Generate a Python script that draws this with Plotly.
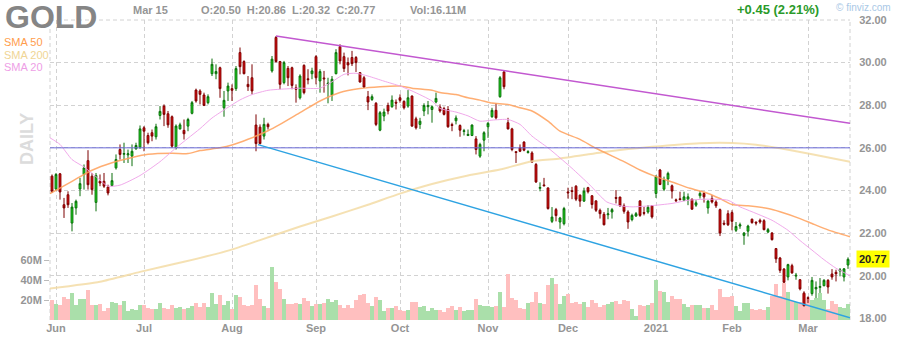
import plotly.graph_objects as go

# ---------------- data ----------------
opens = [
    24.67, 24.07, 24.78, 23.33, 23.80, 22.47, 23.18, 24.07, 24.75, 25.40,
    24.67, 23.44, 24.43, 24.43, 24.16, 24.23, 25.06, 25.92, 25.70, 25.67,
    25.61, 25.95, 26.03, 26.94, 26.58, 26.71, 26.52, 27.52, 27.96, 27.60,
    27.46, 26.00, 26.89, 26.82, 27.02, 27.62, 28.71, 28.67, 28.48, 28.12,
    29.48, 29.48, 29.76, 27.88, 28.67, 28.78, 28.78, 30.47, 30.05, 28.98,
    29.29, 27.07, 26.97, 26.55, 27.10, 29.61, 31.18, 30.05, 29.06, 29.73,
    29.76, 28.82, 28.35, 29.87, 29.24, 29.48, 30.28, 29.14, 29.28, 28.99,
    28.48, 29.48, 30.75, 30.28, 30.00, 30.24, 30.24, 29.53, 29.29, 28.40,
    28.27, 28.09, 26.83, 27.49, 27.99, 27.93, 28.14, 28.35, 28.18, 27.96,
    28.43, 27.36, 27.10, 27.73, 27.93, 27.80, 28.15, 27.91, 27.84, 27.80,
    27.09, 27.27, 27.05, 26.77, 26.58, 26.58, 26.42, 25.61, 26.36, 26.99,
    27.46, 27.76, 28.40, 29.56, 27.18, 26.89, 25.82, 26.00, 26.27, 25.78,
    25.76, 25.22, 24.10, 24.26, 24.12, 22.55, 23.10, 22.52, 22.44, 23.93,
    23.99, 24.20, 23.78, 23.50, 24.13, 23.75, 23.51, 23.07, 22.88, 22.86,
    22.99, 23.67, 23.69, 23.28, 22.99, 22.63, 22.80, 23.51, 22.96, 22.99,
    23.28, 23.86, 24.96, 24.06, 24.54, 24.22, 23.56, 23.61, 23.54, 23.59,
    23.59, 23.31, 23.75, 23.86, 23.18, 23.62, 23.46, 23.10, 22.46, 22.91,
    22.96, 22.13, 22.33, 21.89, 22.09, 22.65, 22.51, 22.60, 22.58, 22.05,
    22.00, 21.27, 20.83, 20.31, 19.94, 20.47, 19.98, 19.81, 19.19, 18.97,
    19.16, 19.38, 19.45, 19.53, 19.78, 20.08, 20.16, 20.22, 19.94, 20.50,
]
highs = [
    24.75, 24.82, 24.82, 23.65, 23.96, 23.41, 23.57, 24.59, 25.22, 25.89,
    24.82, 24.82, 24.75, 24.82, 24.27, 24.82, 25.69, 26.16, 26.24, 25.92,
    26.16, 26.24, 27.05, 27.02, 26.71, 26.86, 27.13, 27.96, 28.04, 27.73,
    27.52, 27.10, 27.18, 27.33, 27.41, 28.20, 28.78, 28.75, 28.59, 28.51,
    30.19, 29.92, 29.81, 28.67, 29.06, 28.98, 29.84, 30.71, 30.11, 29.37,
    29.92, 27.57, 27.10, 27.41, 27.18, 30.31, 31.25, 30.08, 30.08, 29.84,
    29.81, 28.98, 29.45, 29.92, 29.69, 29.76, 30.35, 29.69, 29.61, 29.29,
    29.37, 30.63, 30.86, 30.47, 30.24, 30.55, 30.31, 29.56, 29.37, 28.67,
    28.51, 28.15, 27.73, 27.84, 28.12, 28.46, 28.27, 28.51, 28.23, 28.71,
    28.46, 27.46, 27.41, 28.09, 28.20, 27.99, 28.59, 28.04, 27.93, 27.96,
    27.18, 27.52, 27.10, 26.89, 26.86, 27.10, 26.55, 26.24, 26.78, 27.21,
    27.88, 28.09, 29.37, 29.61, 27.41, 26.94, 25.84, 26.16, 26.31, 25.89,
    25.84, 25.29, 24.38, 24.59, 24.14, 23.22, 23.18, 22.76, 23.23, 24.13,
    24.17, 24.25, 23.81, 24.13, 24.17, 23.78, 23.54, 23.15, 22.99, 23.18,
    23.18, 24.02, 23.70, 23.39, 23.07, 22.91, 22.99, 23.54, 23.23, 23.31,
    23.31, 24.72, 25.01, 24.65, 24.88, 24.28, 23.62, 23.94, 23.94, 23.86,
    23.62, 23.54, 23.98, 23.94, 23.54, 23.78, 23.54, 23.15, 22.60, 23.07,
    23.07, 22.52, 22.49, 22.05, 22.39, 22.68, 22.55, 22.68, 22.65, 22.24,
    22.05, 21.30, 20.88, 20.36, 20.56, 20.56, 20.13, 19.84, 19.27, 19.03,
    19.94, 19.73, 19.89, 19.84, 19.84, 20.31, 20.28, 20.36, 20.36, 20.86,
]
lows = [
    23.88, 24.00, 23.57, 22.71, 23.18, 22.08, 22.86, 23.73, 24.04, 24.04,
    23.80, 23.02, 24.20, 24.12, 23.77, 24.20, 24.98, 25.45, 25.29, 25.29,
    25.14, 25.92, 25.95, 25.84, 26.16, 26.31, 26.39, 27.33, 27.02, 26.94,
    26.00, 25.92, 26.86, 26.39, 26.78, 27.57, 28.12, 28.04, 27.96, 28.04,
    29.37, 29.22, 28.35, 27.46, 28.20, 28.20, 28.67, 29.45, 29.45, 28.67,
    28.51, 25.84, 26.16, 26.39, 26.86, 29.53, 30.00, 28.75, 28.98, 28.90,
    28.75, 28.12, 28.27, 28.51, 28.98, 29.22, 28.98, 28.59, 28.59, 28.09,
    28.20, 29.45, 29.92, 29.56, 29.40, 29.84, 29.56, 29.06, 28.82, 27.77,
    28.20, 27.02, 26.78, 27.25, 27.57, 27.88, 27.80, 28.12, 27.80, 27.88,
    26.99, 26.86, 26.89, 27.49, 27.57, 27.18, 28.09, 27.65, 27.52, 26.94,
    26.78, 27.10, 26.52, 26.58, 26.55, 26.55, 25.69, 25.53, 25.84, 26.47,
    27.41, 27.33, 28.35, 28.75, 26.86, 25.84, 25.29, 25.80, 25.84, 25.73,
    25.29, 24.35, 23.96, 24.20, 23.10, 22.47, 22.55, 22.20, 22.36, 23.62,
    23.59, 23.50, 23.23, 23.46, 23.86, 23.15, 22.99, 22.68, 22.36, 22.65,
    22.68, 23.39, 23.23, 22.91, 22.20, 22.55, 22.76, 22.76, 22.83, 22.91,
    22.68, 23.65, 24.25, 23.97, 24.25, 23.62, 23.46, 23.54, 23.50, 23.31,
    23.10, 23.23, 23.62, 23.43, 22.91, 23.39, 23.18, 21.86, 22.36, 22.33,
    22.13, 22.05, 22.20, 21.45, 21.84, 22.44, 22.36, 22.44, 22.13, 22.00,
    21.65, 20.60, 20.13, 19.66, 19.78, 20.09, 19.81, 19.31, 18.56, 18.72,
    19.06, 18.95, 19.19, 19.50, 19.16, 19.81, 19.73, 19.97, 19.73, 20.32,
]
closes = [
    23.96, 24.75, 23.93, 23.18, 23.33, 23.22, 23.49, 24.32, 25.06, 24.27,
    24.04, 24.70, 24.35, 24.20, 23.88, 24.46, 25.45, 25.69, 25.73, 25.72,
    25.84, 26.11, 26.89, 26.78, 26.24, 26.55, 26.99, 27.71, 27.57, 27.08,
    26.08, 27.02, 27.08, 26.66, 27.33, 28.12, 28.20, 28.51, 27.99, 28.40,
    29.92, 29.58, 28.78, 28.23, 28.90, 28.70, 29.72, 29.81, 29.48, 28.87,
    28.67, 26.20, 26.20, 27.10, 26.99, 30.16, 30.05, 28.98, 30.00, 29.29,
    28.93, 28.75, 29.37, 28.59, 29.20, 29.61, 29.29, 29.58, 29.24, 29.03,
    29.22, 30.47, 30.08, 29.72, 29.89, 29.95, 30.00, 29.09, 28.85, 28.15,
    28.40, 27.10, 27.65, 27.68, 27.73, 28.24, 28.10, 28.23, 27.88, 28.35,
    27.02, 26.94, 27.25, 27.99, 27.99, 27.93, 28.32, 27.73, 27.57, 26.99,
    27.05, 27.40, 26.83, 26.80, 26.63, 27.07, 25.92, 26.16, 26.71, 27.15,
    27.76, 27.41, 29.29, 28.87, 26.89, 25.92, 25.78, 25.84, 25.89, 25.82,
    25.33, 24.40, 24.14, 24.22, 23.15, 22.75, 22.82, 22.71, 23.15, 23.89,
    23.95, 23.59, 23.50, 23.97, 23.94, 23.34, 23.07, 22.91, 22.39, 22.90,
    23.10, 23.63, 23.28, 23.02, 22.52, 22.83, 22.91, 22.83, 22.93, 23.21,
    22.76, 24.65, 24.28, 24.49, 24.80, 23.97, 23.52, 23.57, 23.70, 23.70,
    23.12, 23.42, 23.86, 23.70, 23.50, 23.46, 23.28, 22.00, 22.42, 22.39,
    22.55, 22.31, 22.39, 22.00, 22.33, 22.49, 22.47, 22.52, 22.16, 22.16,
    21.69, 20.79, 20.25, 19.69, 20.52, 20.13, 20.02, 19.38, 18.59, 18.93,
    19.78, 19.45, 19.49, 19.78, 19.47, 19.94, 20.09, 20.27, 20.32, 20.77,
]
volumes_m = [
    20, 16, 15, 23, 21, 27, 15, 21, 21, 30,
    15, 15, 16, 9, 12, 18, 17, 15, 19, 9,
    11, 10, 15, 15, 12, 11, 11, 17, 12, 11,
    15, 12, 13, 11, 12, 14, 17, 13, 17, 13,
    27, 16, 25, 15, 19, 11, 25, 23, 15, 14,
    15, 35, 21, 14, 12, 53, 38, 31, 21, 16,
    16, 17, 16, 22, 19, 14, 16, 16, 17, 21,
    18, 20, 15, 12, 15, 12, 20, 25, 26, 17,
    14, 23, 20, 9, 12, 12, 14, 10, 9, 10,
    18, 18, 13, 14, 9, 12, 10, 10, 8, 12,
    14, 10, 13, 9, 10, 10, 21, 15, 14, 14,
    13, 14, 28, 13, 46, 22, 20, 12, 11, 17,
    18, 28, 17, 16, 35, 42, 36, 16, 24, 26,
    17, 18, 16, 18, 13, 20, 17, 13, 15, 16,
    18, 19, 16, 20, 19, 11, 4, 15, 14, 15,
    17, 40, 29, 28, 18, 24, 21, 21, 16, 13,
    15, 15, 15, 12, 12, 15, 10, 31, 23, 23,
    24, 14, 9, 17, 17, 11, 10, 11, 10, 13,
    24, 36, 24, 37, 28, 19, 18, 18, 26, 21,
    20, 22, 27, 20, 11, 19, 16, 13, 12, 16.11,
]

month_idx = [1, 23, 45, 66, 87, 109, 129, 151, 170, 189]
month_labels = ["Jun", "Jul", "Aug", "Sep", "Oct", "Nov", "Dec", "2021", "Feb", "Mar"]

price_ticks = [18, 20, 22, 24, 26, 28, 30, 32]
vol_ticks_m = [20, 40, 60]

sma20_idx = [-0.5, 2, 5, 8, 11, 14, 17, 22, 27, 31, 34, 37, 40, 44, 47, 50, 54, 57, 62, 67,
             70, 73, 76, 79, 83, 87, 90, 95, 97, 101, 104, 107, 110, 114, 117, 120, 124, 127, 130, 134.5,
             138.7, 142, 145, 149.5, 155, 159, 164, 169, 172, 175, 180, 184, 187, 190, 193, 196, 199.5]
sma20_val = [26.47, 26.16, 25.45, 25.1, 24.65, 24.2, 24.25, 24.7, 25.35, 26.0, 26.45, 26.9, 27.4, 27.9, 28.25, 28.5, 28.7, 28.75, 28.8, 28.8,
             29.1, 29.45, 29.5, 29.37, 29.13, 28.9, 28.67, 28.2, 27.85, 27.68, 27.5, 27.25, 27.3, 27.33, 27.1, 26.55, 26.0, 25.53, 25.04, 24.25,
             23.46, 23.28, 23.23, 23.28, 23.39, 23.54, 23.59, 23.54, 23.23, 23.0, 22.6, 22.13, 21.65, 21.2, 20.75, 20.35, 20.0]

sma50_idx = [-0.5, 5, 10, 15, 20, 24, 30, 34, 37, 42, 45, 49, 54, 57, 62, 67, 72, 77, 82, 87,
             90, 95, 97, 101, 104, 107, 110, 114, 117, 120, 124, 127, 132, 136, 143, 147, 151, 155, 159.5, 164,
             167, 170, 174, 179, 182, 187, 190, 194, 199.5]
sma50_val = [23.85, 24.43, 24.95, 25.3, 25.55, 25.7, 25.75, 25.73, 25.87, 26.0, 26.13, 26.4, 26.8, 27.1, 27.65, 28.2, 28.6, 28.78, 28.87, 28.9,
             28.8, 28.7, 28.6, 28.5, 28.35, 28.24, 28.1, 28.04, 27.88, 27.73, 27.25, 26.78, 26.4, 25.98, 25.35, 24.96, 24.65, 24.4, 24.1, 23.86,
             23.62, 23.34, 23.28, 23.15, 23.0, 22.68, 22.45, 22.15, 21.83]

sma200_idx = [-0.5, 12, 22, 33, 44.5, 52, 62, 70, 79, 87, 95, 104, 112, 120, 127, 139, 150, 162, 170, 176, 182, 190, 199.5]
sma200_val = [19.4, 19.72, 20.18, 20.65, 21.2, 21.67, 22.31, 22.78, 23.33, 23.85, 24.3, 24.7, 24.98, 25.37, 25.5, 25.83, 26.05, 26.22, 26.23, 26.15, 25.98, 25.7, 25.35]

resist_idx = [56, 199.5]
resist_val = [31.25, 27.15]
support_idx = [51.5, 199.5]
support_val = [26.15, 18.03]
level_idx = [-0.5, 199.5]
level_val = [26.0, 26.0]

ticker = "GOLD"
date_label = "Mar 15"

# ---------------- figure ----------------
FONT = "Liberation Sans, Arial, sans-serif"
GRAY = "#959595"
NB = "\u00a0"
x = list(range(len(closes)))
vol_colors = ["#aadfaa" if c >= o else "#ffbfbf" for o, c in zip(opens, closes)]

fig = go.Figure()
fig.add_trace(go.Bar(x=x, y=[v * 1e6 for v in volumes_m], width=1, marker=dict(color=vol_colors, line=dict(width=0)),
                     yaxis="y", hoverinfo="skip", showlegend=False))
fig.add_trace(go.Scatter(x=sma200_idx, y=sma200_val, mode="lines",
                         line=dict(color="rgba(242,218,160,0.8)", width=2, shape="spline", smoothing=0.5),
                         yaxis="y2", hoverinfo="skip", showlegend=False))
fig.add_trace(go.Scatter(x=sma50_idx, y=sma50_val, mode="lines",
                         line=dict(color="rgba(255,160,90,0.85)", width=1.5, shape="spline", smoothing=0.6),
                         yaxis="y2", hoverinfo="skip", showlegend=False))
fig.add_trace(go.Scatter(x=sma20_idx, y=sma20_val, mode="lines",
                         line=dict(color="rgba(238,160,232,0.9)", width=1, shape="spline", smoothing=0.6),
                         yaxis="y2", hoverinfo="skip", showlegend=False))
fig.add_trace(go.Scatter(x=level_idx, y=level_val, mode="lines", line=dict(color="#6a6ad8", width=1),
                         yaxis="y2", hoverinfo="skip", showlegend=False))
fig.add_trace(go.Scatter(x=resist_idx, y=resist_val, mode="lines", line=dict(color="#c258d0", width=1.5),
                         yaxis="y2", hoverinfo="skip", showlegend=False))
fig.add_trace(go.Scatter(x=support_idx, y=support_val, mode="lines", line=dict(color="#2ea3e2", width=1.5),
                         yaxis="y2", hoverinfo="skip", showlegend=False))
fig.add_trace(go.Candlestick(x=x, open=opens, high=highs, low=lows, close=closes, yaxis="y2",
                             increasing=dict(fillcolor="#14e414", line=dict(color="#0b6e0b", width=1)),
                             decreasing=dict(fillcolor="#e40000", line=dict(color="#7d0000", width=1)),
                             whiskerwidth=0, hoverinfo="skip", showlegend=False))

def px2paper(px, py):
    return (px - 50) / 800.0, (320 - py) / 300.0

annos = []
def add_text(text, px, py, size=11, color=GRAY, weight="bold", xanchor="left", **kw):
    ax, ay = px2paper(px, py)
    annos.append(dict(text=text, x=ax, y=ay, xref="paper", yref="paper", xanchor=xanchor, yanchor="middle",
                      showarrow=False, font=dict(family=FONT, size=size, color=color, weight=weight), **kw))

chg = closes[-1] - closes[-2]
pct = chg / closes[-2] * 100
ohlc_text = (NB * 2).join([f"O:{opens[-1]:.2f}", f"H:{highs[-1]:.2f}", f"L:{lows[-1]:.2f}", f"C:{closes[-1]:.2f}"])
add_text(ticker, 3, 17, size=32, color="#858585")
add_text(date_label, 131, 10)
add_text(ohlc_text, 199, 10)
add_text(f"Vol:{volumes_m[-1]:.2f}M", 408, 10)
add_text(f"{chg:+.2f} ({pct:.2f}%)", 735, 10, size=13, color="#2a9a2a")
add_text("© finviz.com", 834, 8, size=10, color="#a9c8e6", weight="normal")
add_text("SMA 50", 2, 42, size=11, color="#ff9d4d", weight="normal")
add_text("SMA 200", 2, 54.5, size=11, color="#f0d595", weight="normal")
add_text("SMA 20", 2, 67, size=11, color="#ee9ee6", weight="normal")
add_text("DAILY", 27, 139, size=18, color="#dcdcdc", xanchor="center", textangle=-90)
annos.append(dict(text=f"{closes[-1]:.2f}", x=(872.5 - 50) / 800, y=closes[-1], xref="paper", yref="y2",
                  xanchor="center", yanchor="middle", showarrow=False, bgcolor="#ffff00", borderpad=2,
                  font=dict(family=FONT, size=11, color="#222222", weight="bold")))

grid = dict(gridcolor="#d2d2d2", griddash="4px,3px", gridwidth=1)
fig.update_layout(
    width=900, height=340, autosize=False,
    margin=dict(l=50, r=50, t=20, b=20),
    paper_bgcolor="white", plot_bgcolor="white",
    boxgap=0.35, bargap=0,
    font=dict(family=FONT),
    xaxis=dict(range=[-0.5, 199.5], tickmode="array", tickvals=month_idx, ticktext=month_labels,
               showgrid=True, zeroline=False, showline=False, ticks="", automargin=False,
               tickfont=dict(family=FONT, size=11, color=GRAY, weight="bold"),
               rangeslider=dict(visible=False), fixedrange=True, **grid),
    yaxis=dict(range=[0, 300e6], tickmode="array", tickvals=[v * 1e6 for v in vol_ticks_m],
               ticktext=[f"{v}M" for v in vol_ticks_m], showgrid=False, zeroline=False, showline=False,
               ticks="outside", ticklen=5, tickcolor="#bbbbbb", side="left", automargin=False,
               tickfont=dict(family=FONT, size=11, color=GRAY, weight="bold")),
    yaxis2=dict(range=[17.92, 32.0], overlaying="y", side="right", tickmode="array", tickvals=price_ticks,
                tickformat=".2f", showgrid=True, zeroline=False, showline=False, automargin=False,
                ticks="outside", ticklen=6, tickcolor="rgba(0,0,0,0)",
                tickfont=dict(family=FONT, size=11, color=GRAY, weight="bold"), **grid),
    annotations=annos,
    shapes=[
        dict(type="line", xref="paper", yref="paper", x0=0, x1=0, y0=0, y1=1, layer="below",
             line=dict(color="#d2d2d2", width=1, dash="4px,3px")),
        dict(type="line", xref="paper", yref="paper", x0=1, x1=1, y0=0, y1=1, layer="below",
             line=dict(color="#d2d2d2", width=1, dash="4px,3px")),
        dict(type="line", xref="paper", yref="paper", x0=0, x1=1, y0=1, y1=1, layer="below",
             line=dict(color="#d2d2d2", width=1, dash="4px,3px")),
    ],
)
fig.write_html("out.html")
